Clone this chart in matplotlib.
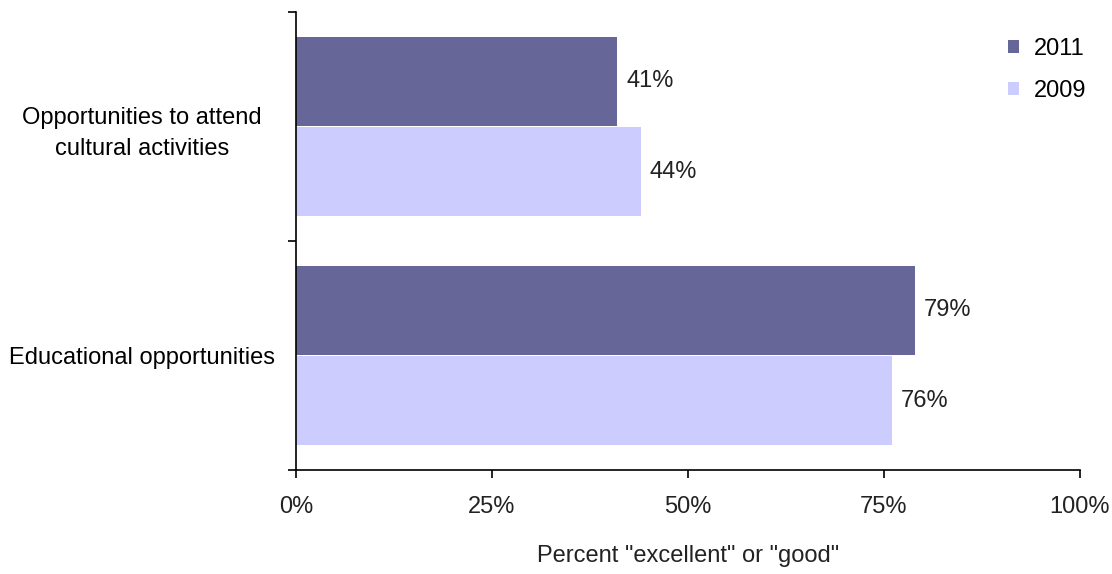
import numpy as np
import matplotlib.pyplot as plt
from matplotlib.ticker import PercentFormatter

categories = ["Educational opportunities", "Opportunities to attend\ncultural activities"]
vals_2011 = [79, 41]
vals_2009 = [76, 44]
years = ["2011", "2009"]
colors = ["#666699", "#CCCCFF"]

plt.rcParams["font.family"] = "Liberation Sans"
plt.rcParams["font.size"] = 17

fig = plt.figure(figsize=(11.12, 5.74), dpi=100)
ax = fig.add_axes([0.2662, 0.1812, 0.7050, 0.7979])

y = np.arange(len(categories))
h = 0.39
b1 = ax.barh(y + 0.197, vals_2011, height=h, color=colors[0], label=years[0])
b2 = ax.barh(y - 0.197, vals_2009, height=h, color=colors[1], label=years[1])

for bars in (b1, b2):
    for r in bars:
        w = r.get_width()
        ax.text(w + 1.1, r.get_y() + r.get_height() / 2, "%d%%" % w,
                va="center", ha="left", color="#222222")

ax.set_xlim(0, 100)
ax.set_ylim(-0.5, 1.5)
ax.set_xticks([0, 25, 50, 75, 100])
ax.xaxis.set_major_formatter(PercentFormatter(decimals=0))
ax.set_yticks([-0.5, 0.5, 1.5], minor=False)
ax.set_yticklabels([])
ax.set_yticks(y, minor=True)
ax.set_yticklabels(categories, minor=True, ha="center", linespacing=1.55)
ax.tick_params(axis="y", which="minor", length=0, pad=111)
ax.tick_params(axis="y", which="major", length=6, direction="out", width=1.2)
ax.tick_params(axis="x", length=6, direction="out", width=1.2, pad=13)
for lab in ax.get_xticklabels():
    lab.set_color("#222222")

ax.spines["top"].set_visible(False)
ax.spines["right"].set_visible(False)
ax.spines["left"].set_linewidth(1.2)
ax.spines["bottom"].set_linewidth(1.2)

ax.set_xlabel('Percent "excellent" or "good"', labelpad=19, color="#222222")

ax.legend(loc="upper right", frameon=False, handlelength=0.5, handleheight=0.5,
          handletextpad=0.6, labelspacing=0.85, bbox_to_anchor=(1.035, 0.99))

fig.savefig("out.png", dpi=100)
